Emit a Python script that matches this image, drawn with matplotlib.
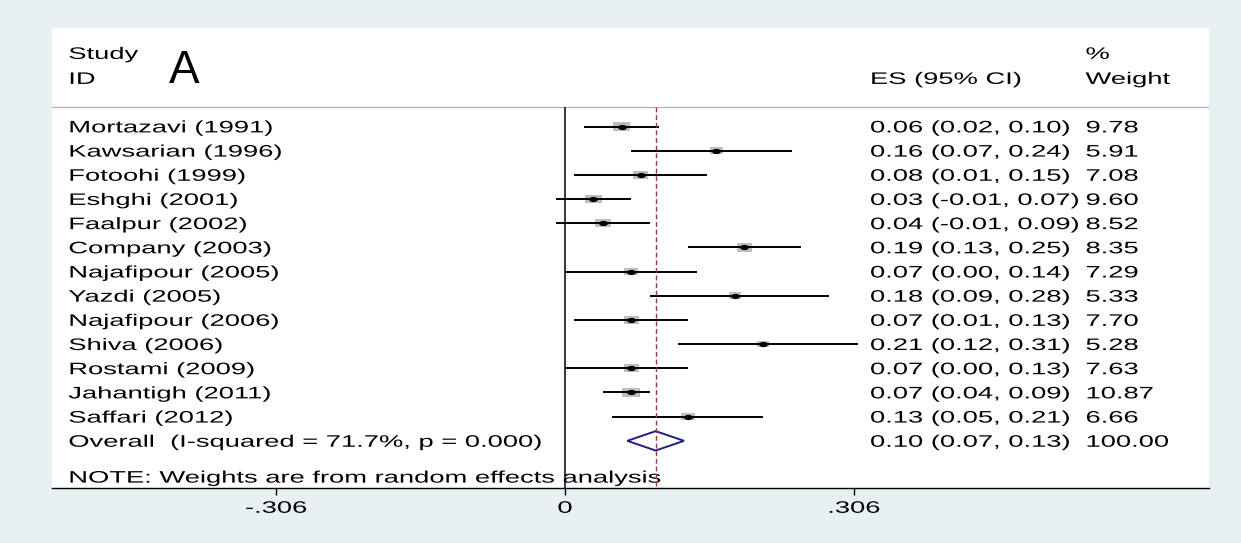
import numpy as np
import matplotlib
matplotlib.use("Agg")
import matplotlib.pyplot as plt
from matplotlib.patheffects import AbstractPathEffect
from matplotlib.transforms import Affine2D, blended_transform_factory

plt.rcParams['font.family'] = ['Liberation Sans', 'DejaVu Sans']

# ------------------------------------------------------------
# data
# ------------------------------------------------------------
studies = ["Mortazavi (1991)", "Kawsarian (1996)", "Fotoohi (1999)", "Eshghi (2001)",
           "Faalpur (2002)", "Company (2003)", "Najafipour (2005)", "Yazdi (2005)",
           "Najafipour (2006)", "Shiva (2006)", "Rostami (2009)", "Jahantigh (2011)",
           "Saffari (2012)"]
es     = [0.06, 0.16, 0.08, 0.03, 0.04, 0.19, 0.07, 0.18, 0.07, 0.21, 0.07, 0.07, 0.13]
lci    = [0.02, 0.07, 0.01, -0.01, -0.01, 0.13, 0.00, 0.09, 0.01, 0.12, 0.00, 0.04, 0.05]
uci    = [0.10, 0.24, 0.15, 0.07, 0.09, 0.25, 0.14, 0.28, 0.13, 0.31, 0.13, 0.09, 0.21]
weight = [9.78, 5.91, 7.08, 9.60, 8.52, 8.35, 7.29, 5.33, 7.70, 5.28, 7.63, 10.87, 6.66]

overall_es, overall_lci, overall_uci = 0.096, 0.066, 0.126
i_squared = 71.7
p_het = 0.000

tick_vals = [-0.306, 0, 0.306]
tick_labels = ["-.306", "0", ".306"]

# ------------------------------------------------------------
# layout (pixel geometry of the original 1241x543 image)
# ------------------------------------------------------------
W, H = 1241, 543
AX_L, AX_R, AX_T, AX_B = 51.7, 1209.0, 28.0, 488.3
ZERO_PX, UNIT_PX = 565.0, 289.0 / 0.306     # x=0 at 565 px, .306 per 289 px
ROW0_PX, ROW_PX = 126.5, 24.18               # first study row, row spacing

def row_of(py):
    return (py - ROW0_PX) / ROW_PX

def axfrac(px):
    return (px - AX_L) / (AX_R - AX_L)

BG = '#e9f0f3'
GRAYBOX = '#bdbdbd'
NAVY = '#1f1f7d'
MAROON = '#9a3a44'
FS = 12
STRETCH = 1.64      # the original graph was exported horizontally stretched


class Widen(AbstractPathEffect):
    """Stretch text glyphs horizontally (keeps left edge or centre)."""
    def __init__(self, sx, anchor='left'):
        super().__init__()
        self.sx = sx
        self.anchor = anchor

    def draw_path(self, renderer, gc, tpath, affine, rgbFace=None):
        cx = 0.0
        if self.anchor == 'center':
            ext = tpath.get_extents()
            cx = (ext.x0 + ext.x1) / 2
        t = Affine2D().translate(-cx, 0).scale(self.sx, 1).translate(cx, 0) + affine
        renderer.draw_path(gc, tpath, t, rgbFace)


fig = plt.figure(figsize=(W / 100, H / 100), dpi=100, facecolor=BG)
ax = fig.add_axes([AX_L / W, 1 - AX_B / H, (AX_R - AX_L) / W, (AX_B - AX_T) / H])
ax.set_facecolor('white')
ax.set_xlim((AX_L - ZERO_PX) / UNIT_PX, (AX_R - ZERO_PX) / UNIT_PX)
ax.set_ylim(row_of(AX_B), row_of(AX_T))

trans = blended_transform_factory(ax.transAxes, ax.transData)
wide = [Widen(STRETCH)]
BASE = 5.9 / ROW_PX     # baseline offset from visual row centre

def put(px, row, s, **kw):
    ax.text(axfrac(px), row + BASE, s, transform=trans, fontsize=FS, va='baseline',
            ha='left', path_effects=wide, **kw)

# header
hline_row = row_of(107)
put(68.3, row_of(53), "Study")
put(68.3, row_of(78), "ID")
put(870, row_of(78), "ES (95% CI)")
put(1085.5, row_of(53), "%")
put(1085.5, row_of(78), "Weight")
ax.text(axfrac(184), row_of(83), "A", transform=trans, fontsize=33, ha='center',
        va='baseline')
ax.axhline(hline_row, color='#b5b5b5', lw=0.9)

# reference lines
bottom = row_of(AX_B)
ax.vlines(0, hline_row, bottom, color='black', lw=1.1, zorder=3)
ax.vlines(overall_es, hline_row, bottom, color=MAROON, lw=1.0,
          linestyles=(0, (3.5, 2)), zorder=5)

# study rows
rows = np.arange(len(studies))
box = np.array([(-1, -0.53), (1, -0.53), (1, 0.53), (-1, 0.53), (-1, -0.53)])
t = np.linspace(0, 2 * np.pi, 40)
dot = np.column_stack([np.cos(t), 0.6 * np.sin(t)])

ax.scatter(es, rows, s=np.array(weight) * 14.9, marker=box, color=GRAYBOX,
           linewidths=0, zorder=2)
ax.hlines(rows, lci, uci, color='black', lw=1.4, zorder=3)
ax.scatter(es, rows, s=40, marker=dot, color='black', linewidths=0, zorder=4)

for r, name, e, lo, hi, w in zip(rows, studies, es, lci, uci, weight):
    put(68.3, r, name)
    put(870, r, f"{e:.2f} ({lo:.2f}, {hi:.2f})")
    put(1085.5, r, f"{w:.2f}")

# overall
orow = len(studies)
half = 9.7 / ROW_PX
ax.fill([overall_lci, overall_es, overall_uci, overall_es],
        [orow, orow - half, orow, orow + half], facecolor='none',
        edgecolor=NAVY, lw=1.4, zorder=4)
put(68.3, orow, f"Overall  (I-squared = {i_squared:.1f}%, p = {p_het:.3f})")
put(870, orow, f"{overall_es:.2f} ({overall_lci:.2f}, {overall_uci:.2f})")
put(1085.5, orow, f"{sum(weight) / sum(weight) * 100:.2f}")

put(68.3, row_of(476.7), "NOTE: Weights are from random effects analysis")

# axis
for side in ('top', 'left', 'right'):
    ax.spines[side].set_visible(False)
ax.spines['bottom'].set_linewidth(1.0)
ax.set_yticks([])
ax.set_xticks(tick_vals, tick_labels)
ax.tick_params(axis='x', direction='out', length=5, width=1.0, labelsize=FS, pad=4)
for lbl in ax.get_xticklabels():
    lbl.set_path_effects([Widen(STRETCH, 'center')])

fig.savefig("out.png", dpi=100, facecolor=BG)
